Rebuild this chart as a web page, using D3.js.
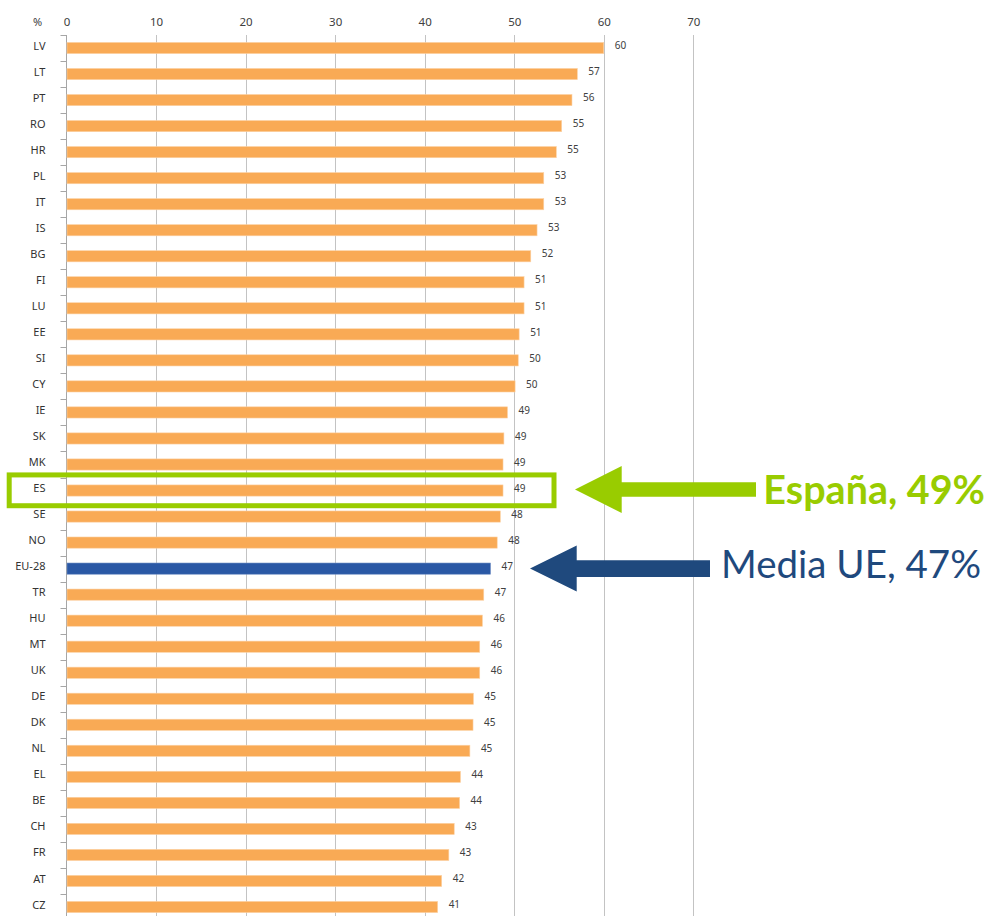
<!DOCTYPE html>
<html>
<head>
<meta charset="utf-8">
<script src="https://cdn.jsdelivr.net/npm/d3@7"></script>
<style>
  html, body { margin: 0; padding: 0; background: #ffffff; }
  svg { display: block; }
</style>
</head>
<body>
<svg id="chart" width="991" height="916"></svg>
<script>
// Countries, top to bottom
const countries = ["LV","LT","PT","RO","HR","PL","IT","IS","BG","FI","LU","EE","SI","CY","IE","SK","MK","ES","SE","NO","EU-28","TR","HU","MT","UK","DE","DK","NL","EL","BE","CH","FR","AT","CZ"];
// Share in %, one per country
const values = [60.0,57.05,56.45,55.3,54.7,53.3,53.3,52.55,51.85,51.1,51.1,50.55,50.45,50.1,49.25,48.85,48.75,48.75,48.45,48.1,47.35,46.6,46.45,46.15,46.15,45.45,45.4,45.05,44.0,43.9,43.3,42.7,41.9,41.45];
const xTicks = [0,10,20,30,40,50,60,70];
const highlightCountry = "ES";
const averageCountry = "EU-28";
const spainNote = "España, 49%";
const euNote = "Media UE, 47%";

const svg = d3.select("#chart");
const plotLeft = 66.5, plotRight = 693.3, plotTop = 35, rowStep = 26.03;

const x = d3.scaleLinear().domain([0, 70]).range([plotLeft, plotRight]);
const y = d3.scaleBand()
  .domain(countries)
  .range([plotTop, plotTop + rowStep * countries.length])
  .paddingInner(0.57)
  .paddingOuter(0.285);

const rows = countries.map((c, i) => ({ country: c, value: values[i] }));
const center = c => y(c) + y.bandwidth() / 2;

// Vertical gridlines
svg.append("g")
  .selectAll("line")
  .data(xTicks.filter(t => t > 0))
  .join("line")
  .attr("x1", d => Math.round(x(d)) + 0.5)
  .attr("x2", d => Math.round(x(d)) + 0.5)
  .attr("y1", plotTop)
  .attr("y2", 916)
  .attr("stroke", "#c3c3c3")
  .attr("stroke-width", 1);

// Top value axis (labels only)
const xAxis = svg.append("g")
  .attr("transform", `translate(0,${plotTop - 9})`)
  .call(d3.axisTop(x).tickValues(xTicks).tickSize(0).tickPadding(0));
xAxis.select(".domain").remove();
xAxis.selectAll("text")
  .attr("font-family", "'Noto Sans', sans-serif")
  .attr("font-size", 11.5)
  .attr("fill", "#404040");

svg.append("text")
  .attr("x", 37.7)
  .attr("y", plotTop - 9)
  .attr("text-anchor", "middle")
  .attr("font-family", "'Noto Sans', sans-serif")
  .attr("font-size", 11)
  .attr("fill", "#404040")
  .text("%");

// Category axis
const yAxis = svg.append("g")
  .attr("transform", `translate(${plotLeft},0)`)
  .call(d3.axisLeft(y).tickSize(0).tickPadding(21));
yAxis.select(".domain").remove();
yAxis.selectAll("text")
  .attr("dy", "0.32em")
  .attr("y", -2)
  .attr("font-family", "'Noto Sans', sans-serif")
  .attr("font-size", 11)
  .attr("fill", "#333333");

svg.append("line")
  .attr("x1", 66.5).attr("x2", 66.5)
  .attr("y1", plotTop).attr("y2", 916)
  .attr("stroke", "#a6a6a6");

// Boundary ticks between categories
svg.append("g")
  .selectAll("line")
  .data(d3.range(countries.length + 1))
  .join("line")
  .attr("x1", 60.5).attr("x2", 66.5)
  .attr("y1", i => Math.round(plotTop + i * rowStep) + 0.5)
  .attr("y2", i => Math.round(plotTop + i * rowStep) + 0.5)
  .attr("stroke", "#a6a6a6");

// Bars
svg.append("g")
  .selectAll("rect")
  .data(rows)
  .join("rect")
  .attr("x", x(0) + 0.5)
  .attr("y", d => y(d.country))
  .attr("width", d => x(d.value) - x(0) - 0.5)
  .attr("height", y.bandwidth())
  .attr("fill", d => d.country === averageCountry ? "#2A58A5" : "#F9AA55")
  .attr("stroke", d => d.country === averageCountry ? "#6f8fc4" : "#fcd2a6")
  .attr("stroke-width", 0.6);

// Value labels
svg.append("g")
  .selectAll("text")
  .data(rows)
  .join("text")
  .attr("x", d => x(d.value) + 11)
  .attr("y", d => center(d.country) - 2.3)
  .attr("dy", "0.35em")
  .attr("font-family", "'Noto Sans', sans-serif")
  .attr("font-size", 10)
  .attr("fill", "#404040")
  .text(d => d3.format(".0f")(d.value));

// Highlight box around Spain
const esC = center(highlightCountry);
svg.append("rect")
  .attr("x", 9.2)
  .attr("y", esC - 15.6)
  .attr("width", 544.8)
  .attr("height", 30.8)
  .attr("fill", "none")
  .attr("stroke", "#99CC00")
  .attr("stroke-width", 5);

// Arrow helper: tip at (tx, cy), pointing left
function arrow(tx, cy, headBack, headHalf, shaftHalf, tail, color) {
  const pts = [
    [tx, cy], [headBack, cy - headHalf], [headBack, cy - shaftHalf],
    [tail, cy - shaftHalf], [tail, cy + shaftHalf], [headBack, cy + shaftHalf],
    [headBack, cy + headHalf]
  ];
  svg.append("polygon")
    .attr("points", pts.map(p => p.join(",")).join(" "))
    .attr("fill", color);
}

arrow(575, esC - 1, 621.7, 23.5, 7.2, 756, "#99CC00");
svg.append("text")
  .attr("x", 985)
  .attr("y", esC + 13)
  .attr("text-anchor", "end")
  .attr("font-family", "Lato, sans-serif")
  .attr("font-weight", "bold")
  .attr("font-size", 39.5)
  .attr("fill", "#99CC00")
  .text(spainNote);

const euC = center(averageCountry);
arrow(530, euC, 576.7, 23, 8.3, 710, "#1F497D");
svg.append("text")
  .attr("x", 981)
  .attr("y", euC + 9.6)
  .attr("text-anchor", "end")
  .attr("font-family", "Lato, sans-serif")
  .attr("font-size", 38.5)
  .attr("fill", "#1F497D")
  .text(euNote);
</script>
</body>
</html>
